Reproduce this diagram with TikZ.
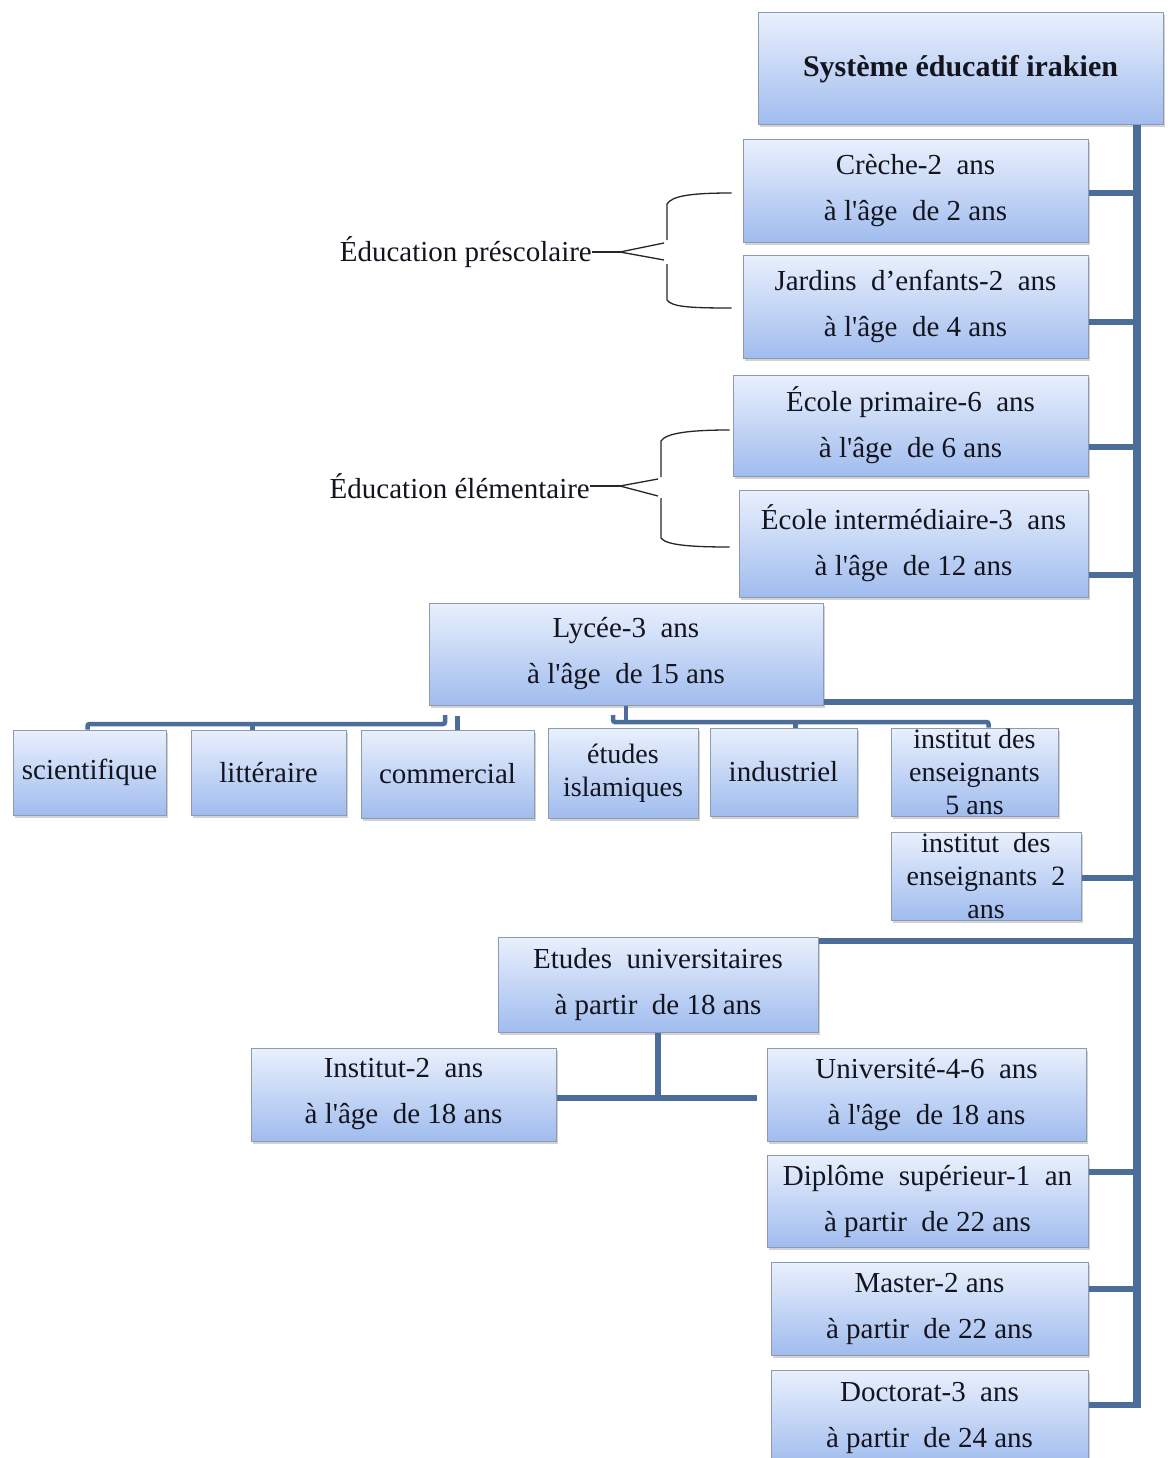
\documentclass[tikz,border=0pt]{standalone}
\usepackage{fontspec}
\setmainfont{Liberation Serif}[Ligatures=TeXOff]
\usetikzlibrary{shadows}
\definecolor{boxtop}{RGB}{233,240,253}
\definecolor{boxbot}{RGB}{160,188,238}
\definecolor{boxedge}{RGB}{140,154,178}
\definecolor{linecol}{RGB}{76,108,153}
\definecolor{txt}{RGB}{20,20,30}
\begin{document}
\begin{tikzpicture}[x=1pt,y=-1pt,
  box/.style={draw=boxedge, line width=1pt, top color=boxtop, bottom color=boxbot,
    drop shadow={shadow xshift=2pt, shadow yshift=-2.5pt, opacity=0.35},
    align=center, inner sep=0pt, text=txt, font=\fontsize{29}{46}\selectfont},
  boxthree/.style={box, font=\fontsize{28}{33}\selectfont},
  lbl/.style={inner sep=0pt, text=txt, font=\fontsize{29}{35}\selectfont},
  trunkline/.style={draw=linecol, line width=7.5pt},
  conn/.style={draw=linecol, line width=5.5pt},
  bus/.style={draw=linecol, line width=4.5pt, rounded corners=2pt},
  brc/.style={draw=black!85, line width=1.3pt},
  brcthick/.style={draw=black!85, line width=2.6pt}]
\useasboundingbox (0,0) rectangle (1167,1458);
\clip (0,0) rectangle (1167,1458);
\fill[white] (0,0) rectangle (1167,1458);

% ---- boxes ----
\node[box, font=\fontsize{30}{36}\selectfont\bfseries, minimum width=405pt, minimum height=112pt] (sys) at (960.5,69) {Système éducatif irakien};
\node[box, minimum width=345pt, minimum height=102pt] (creche) at (915.5,191) {Crèche-2~~ans\\à l'âge~~de 2 ans};
\node[box, minimum width=345pt, minimum height=103pt] (jardins) at (915.5,306.5) {Jardins~~d’enfants-2~~ans\\à l'âge~~de 4 ans};
\node[box, minimum width=355pt, minimum height=101pt] (prim) at (910.5,425.5) {École primaire-6~~ans\\à l'âge~~de 6 ans};
\node[box, minimum width=349pt, minimum height=107pt] (inter) at (913.5,543.5) {École intermédiaire-3~~ans\\à l'âge~~de 12 ans};
\node[box, minimum width=394pt, minimum height=102pt] (lycee) at (626,654) {Lycée-3~~ans\\à l'âge~~de 15 ans};

\node[box, minimum width=153pt, minimum height=85pt] (sci) at (89.5,772.5) {scientifique};
\node[box, minimum width=155pt, minimum height=85pt] (lit) at (268.5,772.5) {littéraire};
\node[box, minimum width=173pt, minimum height=88pt] (com) at (447.5,774) {commercial};
\node[boxthree, minimum width=150pt, minimum height=90pt] (isl) at (623,773) {études\\islamiques};
\node[box, minimum width=147pt, minimum height=88pt] (ind) at (783.5,772) {industriel};
\node[boxthree, minimum width=167pt, minimum height=88pt] (ieA) at (974.5,772) {institut des\\enseignants\\5 ans};
\node[boxthree, minimum width=190pt, minimum height=88pt] (ieB) at (986,876) {institut~~des\\enseignants~~2\\ans};

\node[box, minimum width=320pt, minimum height=95pt] (etu) at (658,984.5) {Etudes~~universitaires\\à partir~~de 18 ans};
\node[box, minimum width=305pt, minimum height=93pt] (inst) at (403.5,1094.5) {Institut-2~~ans\\à l'âge~~de 18 ans};
\node[box, minimum width=319pt, minimum height=93pt] (univ) at (926.5,1094.5) {Université-4-6~~ans\\à l'âge~~de 18 ans};
\node[box, minimum width=321pt, minimum height=92pt] (dipl) at (927.5,1201) {Diplôme~~supérieur-1~~an\\à partir~~de 22 ans};
\node[box, minimum width=317pt, minimum height=93pt] (mast) at (929.5,1308.5) {Master-2 ans\\à partir~~de 22 ans};
\node[box, minimum width=317pt, minimum height=96pt] (doct) at (929.5,1418) {Doctorat-3~~ans\\à partir~~de 24 ans};

% ---- trunk ----
\coordinate (tbot) at (1137,1408);
\draw[trunkline] (sys.south -| tbot) -- (tbot);
\draw[conn] (creche.east |- 0,193) -- (tbot |- 0,193);
\draw[conn] (jardins.east |- 0,322) -- (tbot |- 0,322);
\draw[conn] (prim.east |- 0,447) -- (tbot |- 0,447);
\draw[conn] (inter.east |- 0,575) -- (tbot |- 0,575);
\draw[conn] (lycee.south east |- 0,702) -- (tbot |- 0,702);
\draw[conn] (ieB.east |- 0,878) -- (tbot |- 0,878);
\draw[conn] (etu.east |- 0,941) -- (tbot |- 0,941);
\draw[conn] (dipl.east |- 0,1172) -- (tbot |- 0,1172);
\draw[conn] (mast.east |- 0,1289) -- (tbot |- 0,1289);
\draw[conn] (doct.east |- 0,1405) -- (tbot |- 0,1405);

% ---- university split ----
\coordinate (ujoin) at (757,1098);
\draw[conn] (etu.south) -- (etu.south |- ujoin);
\draw[conn] (inst.east |- ujoin) -- (ujoin);

% ---- lycee buses ----
\draw[bus] (lycee.south) -- (lycee.south |- 0,722);
\draw[bus] ([xshift=-10pt]isl.north |- 0,715) -- ([xshift=-10pt]isl.north |- 0,722) -- ([xshift=14pt]ieA.north |- 0,722) -- ([xshift=14pt]ieA.north);
\draw[bus] ([xshift=12pt]ind.north) -- ++(0,-6);
\draw[bus] ([xshift=-2pt]sci.north) |- (445,724) -- (445,715);
\draw[bus] ([xshift=-16pt]lit.north) -- ++(0,-7);
\draw[bus] ([xshift=10pt]com.north) -- ++(0,-14);

% ---- braces ----
\node[lbl, anchor=east] (pre) at (592,252) {Éducation préscolaire};
\draw[brcthick] (pre.east) -- ++(28,0) coordinate (ptip);
\draw[brc] (ptip) -- (664,243);
\draw[brc] (ptip) -- (664,260);
\draw[brc] (667,240) -- (667,204) .. controls (672,196) and (690,193) .. ([xshift=-11pt]creche.west |- 0,193);
\draw[brc] (667,264) -- (667,300) .. controls (672,307) and (690,308) .. ([xshift=-11pt]jardins.west |- 0,308);

\node[lbl, anchor=east] (ele) at (590,486) {Éducation élémentaire};
\draw[brcthick] (ele.east) -- ++(30,0) coordinate (etip);
\draw[brc] (etip) -- (658,479);
\draw[brc] (etip) -- (658,496);
\draw[brc] (661,477) -- (661,441) .. controls (666,433) and (690,430) .. ([xshift=-3pt]prim.west |- 0,430);
\draw[brc] (661,498) -- (661,538) .. controls (666,545) and (690,547) .. ([xshift=-9pt]inter.west |- 0,547);
\end{tikzpicture}
\end{document}
